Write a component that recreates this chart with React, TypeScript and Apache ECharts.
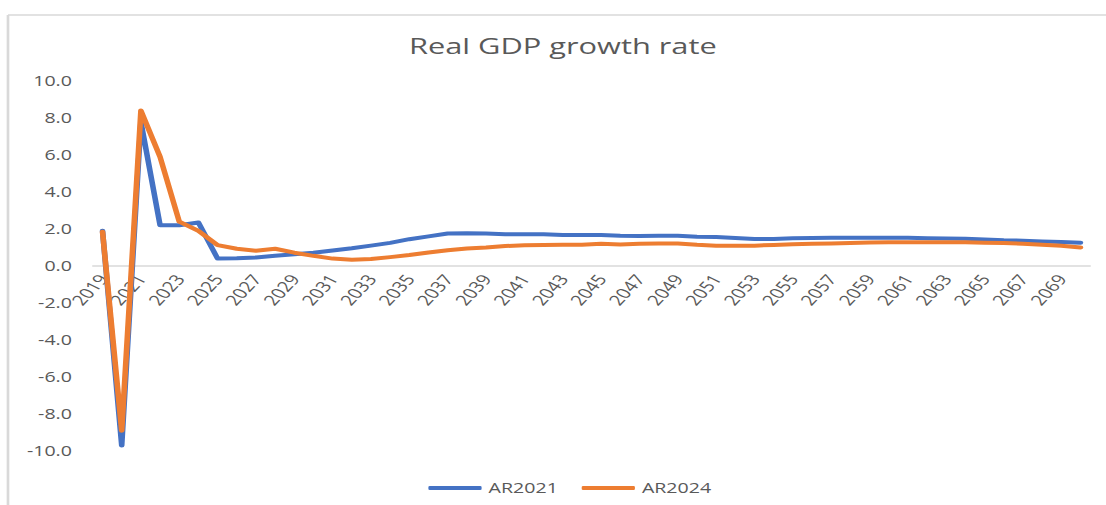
import React, { useEffect, useRef } from "react";
import * as echarts from "echarts";

const years: string[] = [
  "2019", "2020", "2021", "2022", "2023", "2024", "2025", "2026", "2027", "2028",
  "2029", "2030", "2031", "2032", "2033", "2034", "2035", "2036", "2037", "2038",
  "2039", "2040", "2041", "2042", "2043", "2044", "2045", "2046", "2047", "2048",
  "2049", "2050", "2051", "2052", "2053", "2054", "2055", "2056", "2057", "2058",
  "2059", "2060", "2061", "2062", "2063", "2064", "2065", "2066", "2067", "2068",
  "2069", "2070",
];

const ar2021: number[] = [
  1.9, -9.7, 7.8, 2.2, 2.2, 2.35, 0.4, 0.42, 0.46, 0.55,
  0.64, 0.72, 0.84, 0.96, 1.1, 1.25, 1.45, 1.6, 1.76, 1.77,
  1.76, 1.72, 1.71, 1.71, 1.67, 1.67, 1.67, 1.63, 1.62, 1.63,
  1.63, 1.58, 1.57, 1.52, 1.46, 1.46, 1.5, 1.52, 1.53, 1.53,
  1.53, 1.53, 1.53, 1.5, 1.48, 1.47, 1.43, 1.39, 1.37, 1.33,
  1.3, 1.26,
];

const ar2024: number[] = [
  1.85, -8.9, 8.4, 5.9, 2.4, 1.9, 1.13, 0.93, 0.83, 0.93,
  0.72, 0.55, 0.4, 0.34, 0.38, 0.48, 0.59, 0.73, 0.85, 0.94,
  1.0, 1.08, 1.12, 1.14, 1.15, 1.15, 1.2, 1.16, 1.2, 1.22,
  1.22, 1.15, 1.1, 1.1, 1.1, 1.14, 1.18, 1.2, 1.22, 1.24,
  1.27, 1.29, 1.29, 1.29, 1.29, 1.28, 1.26, 1.24, 1.2, 1.15,
  1.1, 1.0,
];

const seriesNames: string[] = ["AR2021", "AR2024"];
const yMin = -10;
const yMax = 10;
const yStep = 2;

const OUTER_W = 1106;
const OUTER_H = 505;
const STRETCH = 1.4;
const INNER_W = OUTER_W / STRETCH;

const GRID_TOP = 81;
const GRID_BOTTOM = 54;
const PLOT_H = OUTER_H - GRID_TOP - GRID_BOTTOM;
// distance from grid bottom to the zero line, derived from the axis range
const ZERO_OFFSET = (PLOT_H * (0 - yMin)) / (yMax - yMin);

const FONT = "'Open Sans', 'Noto Sans', sans-serif";
const TEXT = "#595959";
const BORDER = "#d9d9d9";

export default function App() {
  const ref = useRef<HTMLDivElement>(null);

  useEffect(() => {
    if (!ref.current) return;
    const chart = echarts.init(ref.current, undefined, { renderer: "svg" });
    chart.setOption({
      animation: false,
      backgroundColor: "#ffffff",
      textStyle: { fontFamily: FONT },
      title: {
        text: "Real GDP growth rate",
        left: 397,
        textAlign: "center",
        top: 29,
        textStyle: { fontFamily: FONT, fontSize: 22, fontWeight: "normal", color: TEXT },
      },
      graphic: [
        {
          type: "line",
          shape: { x1: 5.7, y1: 15, x2: INNER_W, y2: 15 },
          style: { stroke: BORDER, lineWidth: 1.7 },
          silent: true,
        },
        {
          type: "line",
          shape: { x1: 5.7, y1: 15, x2: 5.7, y2: OUTER_H },
          style: { stroke: BORDER, lineWidth: 1.9 },
          silent: true,
        },
      ],
      legend: {
        data: seriesNames,
        icon: "roundRect",
        left: 301,
        top: 476,
        itemWidth: 38,
        itemHeight: 4,
        itemGap: 17,
        textStyle: { fontFamily: FONT, fontSize: 14, color: TEXT },
      },
      grid: { left: 66.4, right: 11.4, top: GRID_TOP, bottom: GRID_BOTTOM, containLabel: false },
      xAxis: {
        type: "category",
        data: years,
        boundaryGap: true,
        position: "bottom",
        offset: -ZERO_OFFSET,
        axisLine: { show: true, onZero: false, lineStyle: { color: BORDER, width: 1.5 } },
        axisTick: { show: false },
        axisLabel: {
          interval: 1,
          rotate: 55,
          margin: 10,
          fontFamily: FONT,
          fontSize: 14.5,
          color: TEXT,
        },
        splitLine: { show: false },
      },
      yAxis: {
        type: "value",
        min: yMin,
        max: yMax,
        interval: yStep,
        axisLine: { show: false },
        axisTick: { show: false },
        splitLine: { show: false },
        axisLabel: {
          margin: 15,
          fontFamily: FONT,
          fontSize: 14,
          color: TEXT,
          formatter: (v: number) => v.toFixed(1),
        },
      },
      series: [
        {
          name: seriesNames[0],
          type: "line",
          data: ar2021,
          showSymbol: false,
          symbol: "none",
          color: "#4472C4",
          lineStyle: { width: 4, color: "#4472C4", cap: "round", join: "round" },
        },
        {
          name: seriesNames[1],
          type: "line",
          data: ar2024,
          showSymbol: false,
          symbol: "none",
          color: "#ED7D31",
          lineStyle: { width: 4, color: "#ED7D31", cap: "round", join: "round" },
        },
      ],
    });
    return () => chart.dispose();
  }, []);

  return (
    <div
      style={{
        position: "absolute",
        left: 0,
        top: 0,
        width: OUTER_W,
        height: OUTER_H,
        overflow: "hidden",
        background: "#ffffff",
      }}
    >
      <div
        ref={ref}
        style={{
          width: INNER_W,
          height: OUTER_H,
          transform: `scaleX(${STRETCH})`,
          transformOrigin: "0 0",
        }}
      />
    </div>
  );
}
